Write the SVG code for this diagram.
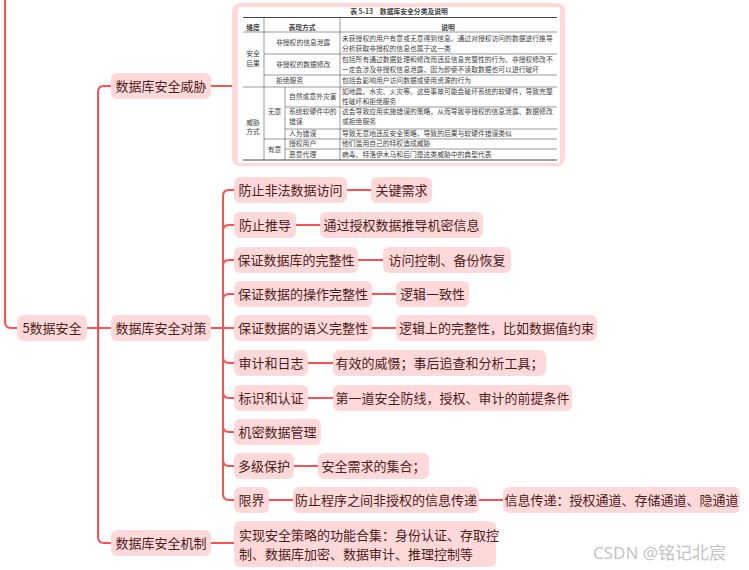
<svg xmlns="http://www.w3.org/2000/svg" width="749" height="570" viewBox="0 0 749 570">
<style>
.n{fill:#FFD9D9;}
.t{font-family:"Noto Sans CJK SC","Noto Sans",sans-serif;font-size:13px;fill:#4E1B1B;text-anchor:middle;}
.c{fill:none;stroke:#FF4F4F;stroke-width:2;}
.tb{font-family:"Noto Sans CJK SC","Noto Sans",sans-serif;font-size:6.8px;fill:#3f3f3f;}
.tm{text-anchor:middle;}
.hl{stroke:#555;stroke-width:0.6;}
.hk{stroke:#444;stroke-width:1.2;}
</style>
<rect width="749" height="570" fill="#fff"/>
<g id="connectors">
<path class="c" d="M5,0 V322 Q5,328 11,328 H17"/>
<path class="c" d="M87,328 H98 M98,328 V92 Q98,86 104,86 H111 M98,328 H111 M98,328 V537 Q98,543 104,543 H111"/>
<path class="c" d="M211,86 H232"/>
<path class="c" d="M211,328 H223 M223,328 V196 Q223,190 229,190 H234 M223,328 V231 Q223,225 229,225 H234 M223,328 V266 Q223,260 229,260 H234 M223,328 V300 Q223,294 229,294 H234 M223,328 H234 M223,328 V357 Q223,363 229,363 H234 M223,328 V392 Q223,398 229,398 H234 M223,328 V426 Q223,432 229,432 H234 M223,328 V460 Q223,466 229,466 H234 M223,328 V494 Q223,500 229,500 H234"/>
<path class="c" d="M347,190 H371 M296,225 H320 M358,260 H383 M372,294 H396 M372,328 H396 M308,363 H333 M308,398 H333 M294,466 H318 M269,500 H293 M479,500 H503"/>
<path class="c" d="M211,543 H234"/>
</g>
<g id="root"><rect class="n" x="17" y="315" width="70" height="26" rx="6"/><text class="t" x="52" y="332.5">5数据安全</text></g>
<g id="threat"><rect class="n" x="111" y="73" width="100" height="26" rx="6"/><text class="t" x="161" y="90.5">数据库安全威胁</text></g>
<g id="measures"><rect class="n" x="111" y="315" width="100" height="26" rx="6"/><text class="t" x="161" y="332.5">数据库安全对策</text></g>
<g id="mechanism"><rect class="n" x="111" y="530" width="100" height="26" rx="6"/><text class="t" x="161" y="547.5">数据库安全机制</text></g>
<g id="table">
<rect class="n" x="232" y="3" width="333" height="163" rx="8"/>
<rect x="238" y="7" width="322" height="156" fill="#fff"/>
<text class="tb tm" x="399" y="13.5" font-weight="bold">表 5-13　数据库安全分类及说明</text>
<line class="hk" x1="243" y1="17.5" x2="557" y2="17.5"/>
<line class="hl" x1="243" y1="32" x2="557" y2="32"/>
<line class="hl" x1="264" y1="54" x2="557" y2="54"/>
<line class="hl" x1="264" y1="75" x2="557" y2="75"/>
<line class="hl" x1="243" y1="87" x2="557" y2="87"/>
<line class="hl" x1="285" y1="107" x2="557" y2="107"/>
<line class="hl" x1="285" y1="129" x2="557" y2="129"/>
<line class="hl" x1="264" y1="139" x2="557" y2="139"/>
<line class="hl" x1="285" y1="149" x2="557" y2="149"/>
<line class="hk" x1="243" y1="160" x2="557" y2="160"/>
<line class="hl" x1="264" y1="17.5" x2="264" y2="160"/>
<line class="hl" x1="340" y1="17.5" x2="340" y2="160"/>
<line class="hl" x1="285" y1="87" x2="285" y2="160"/>
<text class="tb tm" x="253" y="30.4" font-weight="bold">维度</text>
<text class="tb tm" x="302" y="30.4" font-weight="bold">表现方式</text>
<text class="tb tm" x="448" y="30.4" font-weight="bold">说明</text>
<text class="tb tm" x="253" y="56.4">安全</text>
<text class="tb tm" x="253" y="66.4">后果</text>
<text class="tb" x="276" y="45.4">非授权的信息泄露</text>
<text class="tb" x="342" y="41.4">未获授权的用户有意或无意得到信息。通过对授权访问的数据进行推导</text>
<text class="tb" x="342" y="51.4">分析获取非授权的信息也属于这一类</text>
<text class="tb" x="276" y="67.4">非授权的数据修改</text>
<text class="tb" x="342" y="62.4">包括所有通过数据处理和修改而违反信息完整性的行为。非授权修改不</text>
<text class="tb" x="342" y="72.4">一定会涉及非授权信息泄露，因为即使不读取数据也可以进行破坏</text>
<text class="tb" x="276" y="83.4">拒绝服务</text>
<text class="tb" x="342" y="83.4">包括会影响用户访问数据或使用资源的行为</text>
<text class="tb tm" x="253" y="125.4">威胁</text>
<text class="tb tm" x="253" y="134.4">方式</text>
<text class="tb tm" x="274.5" y="114.4">无意</text>
<text class="tb tm" x="274.5" y="152.4">有意</text>
<text class="tb" x="289" y="99.4">自然或意外灾害</text>
<text class="tb" x="342" y="94.4">如地震、水灾、火灾等。这些事故可能会破坏系统的软硬件，导致完整</text>
<text class="tb" x="342" y="104">性破坏和拒绝服务</text>
<text class="tb" x="289" y="114.4">系统软硬件中的</text>
<text class="tb" x="289" y="124.4">错误</text>
<text class="tb" x="342" y="114.4">这会导致应用实施错误的策略，从而导致非授权的信息泄露、数据修改</text>
<text class="tb" x="342" y="124.4">或拒绝服务</text>
<text class="tb" x="289" y="136.4">人为错误</text>
<text class="tb" x="342" y="136.4">导致无意地违反安全策略，导致的后果与软硬件错误类似</text>
<text class="tb" x="289" y="146.4">授权用户</text>
<text class="tb" x="342" y="146.4">他们滥用自己的特权造成威胁</text>
<text class="tb" x="289" y="156.8">恶意代理</text>
<text class="tb" x="342" y="156.8">病毒、特洛伊木马和后门是这类威胁中的典型代表</text>
</g>
<g id="n1"><rect class="n" x="234" y="177" width="113" height="26" rx="6"/><text class="t" x="290.5" y="194.5">防止非法数据访问</text></g>
<g id="n1a"><rect class="n" x="371" y="177" width="61" height="26" rx="6"/><text class="t" x="401.5" y="194.5">关键需求</text></g>
<g id="n2"><rect class="n" x="234" y="212" width="62" height="26" rx="6"/><text class="t" x="265" y="229.5">防止推导</text></g>
<g id="n2a"><rect class="n" x="320" y="212" width="163" height="26" rx="6"/><text class="t" x="401.5" y="229.5">通过授权数据推导机密信息</text></g>
<g id="n3"><rect class="n" x="234" y="247" width="124" height="26" rx="6"/><text class="t" x="296" y="264.5">保证数据库的完整性</text></g>
<g id="n3a"><rect class="n" x="383" y="247" width="128" height="26" rx="6"/><text class="t" x="447" y="264.5">访问控制、备份恢复</text></g>
<g id="n4"><rect class="n" x="234" y="281" width="138" height="26" rx="6"/><text class="t" x="303" y="298.5">保证数据的操作完整性</text></g>
<g id="n4a"><rect class="n" x="396" y="281" width="73" height="26" rx="6"/><text class="t" x="432.5" y="298.5">逻辑一致性</text></g>
<g id="n5"><rect class="n" x="234" y="315" width="138" height="26" rx="6"/><text class="t" x="303" y="332.5">保证数据的语义完整性</text></g>
<g id="n5a"><rect class="n" x="396" y="315" width="201" height="26" rx="6"/><text class="t" x="496.5" y="332.5">逻辑上的完整性，比如数据值约束</text></g>
<g id="n6"><rect class="n" x="234" y="350" width="74" height="26" rx="6"/><text class="t" x="271" y="367.5">审计和日志</text></g>
<g id="n6a"><rect class="n" x="333" y="350" width="213" height="26" rx="6"/><text class="t" x="439.5" y="367.5">有效的威慑；事后追查和分析工具；</text></g>
<g id="n7"><rect class="n" x="234" y="385" width="74" height="26" rx="6"/><text class="t" x="271" y="402.5">标识和认证</text></g>
<g id="n7a"><rect class="n" x="333" y="385" width="239" height="26" rx="6"/><text class="t" x="452.5" y="402.5">第一道安全防线，授权、审计的前提条件</text></g>
<g id="n8"><rect class="n" x="234" y="419" width="87" height="26" rx="6"/><text class="t" x="277.5" y="436.5">机密数据管理</text></g>
<g id="n9"><rect class="n" x="234" y="453" width="60" height="26" rx="6"/><text class="t" x="264" y="470.5">多级保护</text></g>
<g id="n9a"><rect class="n" x="318" y="453" width="111" height="26" rx="6"/><text class="t" x="373.5" y="470.5">安全需求的集合；</text></g>
<g id="n10"><rect class="n" x="234" y="487" width="35" height="26" rx="6"/><text class="t" x="251.5" y="504.5">限界</text></g>
<g id="n10a"><rect class="n" x="293" y="487" width="186" height="26" rx="6"/><text class="t" x="386" y="504.5">防止程序之间非授权的信息传递</text></g>
<g id="n10b"><rect class="n" x="503" y="487" width="237" height="26" rx="6"/><text class="t" x="621.5" y="504.5">信息传递：授权通道、存储通道、隐通道</text></g>
<g id="m1"><rect class="n" x="234" y="521" width="262" height="46" rx="6"/><text class="t" style="text-anchor:start"><tspan x="239" y="539.5">实现安全策略的功能合集：身份认证、存取控</tspan><tspan x="239" y="558.5">制、数据库加密、数据审计、推理控制等</tspan></text></g>
<text x="593" y="559" font-family="'Noto Sans','Noto Sans CJK SC',sans-serif" font-size="17" fill="#C4C4C4">CSDN @铭记北宸</text>
</svg>
